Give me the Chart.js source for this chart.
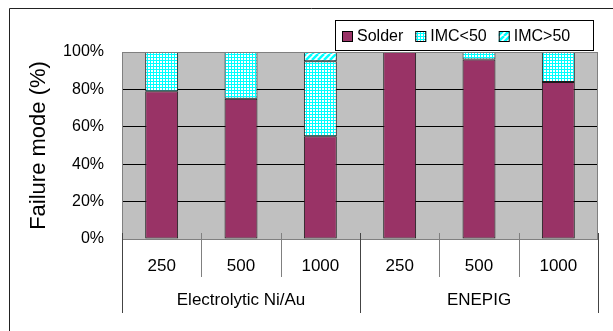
<!DOCTYPE html>
<html>
<head>
<meta charset="utf-8">
<script src="https://cdn.jsdelivr.net/npm/chart.js@4.4.0/dist/chart.umd.min.js"></script>
<style>
  html, body { margin: 0; padding: 0; background: #fff; }
  #wrap { width: 613px; height: 331px; position: relative; }
</style>
</head>
<body>
<div id="wrap"><canvas id="failChart" width="613" height="331"></canvas></div>
<script>
// chart data
const categories = ['250', '500', '1000', '250', '500', '1000'];
const groups = ['Electrolytic Ni/Au', 'ENEPIG'];
const groupSize = 3;
const solder = [79, 75, 55, 100, 96, 84];
const imcBelow50 = [21, 25, 40, 0, 4, 16];
const imcAbove50 = [0, 0, 5, 0, 0, 0];
const yTicks = [0, 20, 40, 60, 80, 100];

const FONT = "'Liberation Sans', Arial, sans-serif";

function gridPattern() {
    const c = document.createElement('canvas');
    c.width = 3; c.height = 3;
    const g = c.getContext('2d');
    g.fillStyle = '#fff';
    g.fillRect(0, 0, 3, 3);
    g.fillStyle = '#00ffff';
    g.fillRect(0, 0, 3, 1);
    g.fillRect(0, 0, 1, 3);
    return g.createPattern(c, 'repeat');
}

function stripePattern() {
    const c = document.createElement('canvas');
    c.width = 6; c.height = 6;
    const g = c.getContext('2d');
    g.fillStyle = '#fff';
    g.fillRect(0, 0, 6, 6);
    g.strokeStyle = '#00ffff';
    g.lineWidth = 2.5;
    for (let k = -6; k <= 6; k += 6) {
        g.beginPath();
        g.moveTo(k, 6);
        g.lineTo(k + 6, 0);
        g.stroke();
    }
    return g.createPattern(c, 'repeat');
}

const decor = {
    id: 'decor',
    beforeDraw(chart) {
        const ctx = chart.ctx;
        const a = chart.chartArea;
        ctx.save();
        ctx.fillStyle = '#fff';
        ctx.fillRect(0, 0, chart.width, chart.height);
        // outer frame (top and left edges visible)
        ctx.strokeStyle = '#222';
        ctx.lineWidth = 1;
        ctx.beginPath();
        ctx.moveTo(chart.width, 8.5);
        ctx.lineTo(9.5, 8.5);
        ctx.lineTo(9.5, chart.height);
        ctx.stroke();
        ctx.fillStyle = '#c0c0c0';
        ctx.fillRect(a.left, a.top, a.right - a.left, a.bottom - a.top);
        ctx.restore();
    },
    afterDraw(chart) {
        const ctx = chart.ctx;
        const a = chart.chartArea;
        const xs = chart.scales.x;
        ctx.save();
        // plot border
        ctx.strokeStyle = '#808080';
        ctx.lineWidth = 1;
        ctx.strokeRect(Math.round(a.left) + 0.5, Math.round(a.top) + 0.5,
            Math.round(a.right - a.left) - 1, Math.round(a.bottom - a.top));

        // category separators
        const step = xs.getPixelForValue(1) - xs.getPixelForValue(0);
        for (let i = 0; i <= categories.length; i++) {
            const x = Math.round(xs.getPixelForValue(0) - step / 2 + i * step) + 0.5;
            const major = i % groupSize === 0;
            ctx.strokeStyle = major ? '#444' : '#808080';
            ctx.beginPath();
            ctx.moveTo(x, a.bottom - 6);
            ctx.lineTo(x, major ? 313 : 277);
            ctx.stroke();
        }

        // group labels
        ctx.fillStyle = '#000';
        ctx.font = '17px ' + FONT;
        ctx.textAlign = 'center';
        ctx.textBaseline = 'middle';
        groups.forEach((g, gi) => {
            const x0 = xs.getPixelForValue(gi * groupSize);
            const x1 = xs.getPixelForValue(gi * groupSize + groupSize - 1);
            ctx.fillText(g, (x0 + x1) / 2, 300);
        });

        // legend
        ctx.fillStyle = '#fff';
        ctx.fillRect(335.5, 20.5, 258, 30);
        ctx.strokeStyle = '#000';
        ctx.strokeRect(335.5, 20.5, 258, 30);
        ctx.font = '16px ' + FONT;
        ctx.textAlign = 'left';
        let lx = 342;
        chart.data.datasets.forEach(ds => {
            ctx.fillStyle = ds.backgroundColor;
            ctx.fillRect(lx, 31, 11, 11);
            ctx.strokeStyle = '#000';
            ctx.strokeRect(lx + 0.5, 31.5, 10, 10);
            ctx.fillStyle = '#000';
            ctx.fillText(ds.label, lx + 15, 36.5);
            lx += 15 + ctx.measureText(ds.label).width + 12;
        });
        ctx.restore();
    }
};

const ctx = document.getElementById('failChart').getContext('2d');
const barStyle = { borderColor: '#1a1a1a', borderWidth: 1, borderSkipped: false, barPercentage: 0.415, categoryPercentage: 1 };

new Chart(ctx, {
    type: 'bar',
    data: {
        labels: categories,
        datasets: [
            Object.assign({ label: 'Solder', data: solder, backgroundColor: '#993366' }, barStyle),
            Object.assign({ label: 'IMC<50', data: imcBelow50, backgroundColor: gridPattern() }, barStyle),
            Object.assign({ label: 'IMC>50', data: imcAbove50, backgroundColor: stripePattern() }, barStyle)
        ]
    },
    options: {
        responsive: false,
        animation: false,
        layout: { padding: { left: 0, right: 15, top: 52, bottom: 0 } },
        plugins: { legend: { display: false }, tooltip: { enabled: false } },
        scales: {
            x: {
                stacked: true,
                grid: { display: false },
                border: { display: false },
                ticks: { color: '#000', font: { family: FONT, size: 17 }, padding: 9, maxRotation: 0 },
                afterFit(scale) { scale.height = 92; }
            },
            y: {
                stacked: true,
                min: 0,
                max: 100,
                afterBuildTicks(scale) { scale.ticks = yTicks.map(v => ({ value: v })); },
                grid: { color: '#000', drawTicks: false },
                border: { display: false },
                ticks: { color: '#000', font: { family: FONT, size: 16 }, padding: 18, callback: v => v + '%' },
                title: { display: true, text: 'Failure mode (%)', color: '#000', font: { family: FONT, size: 22 }, padding: { top: 26, bottom: 0 } },
                afterFit(scale) { scale.width = 122; }
            }
        }
    },
    plugins: [decor]
});
</script>
</body>
</html>
